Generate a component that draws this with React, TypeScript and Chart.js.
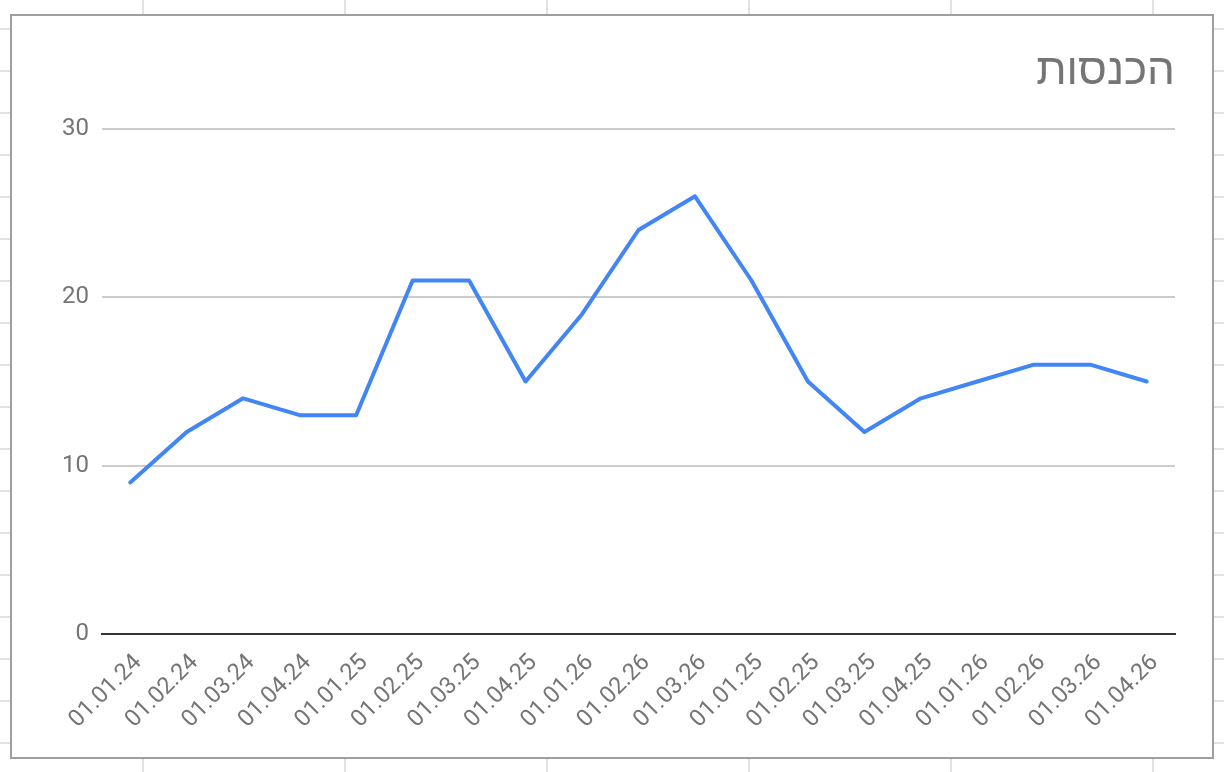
import React, { useEffect, useRef } from "react";
import { Chart, registerables } from "chart.js";

Chart.register(...registerables);

const chartTitle = "הכנסות";
const categories = [
  "01.01.24", "01.02.24", "01.03.24", "01.04.24",
  "01.01.25", "01.02.25", "01.03.25", "01.04.25",
  "01.01.26", "01.02.26", "01.03.26",
  "01.01.25", "01.02.25", "01.03.25", "01.04.25",
  "01.01.26", "01.02.26", "01.03.26", "01.04.26",
];
const revenue = [9, 12, 14, 13, 13, 21, 21, 15, 19, 24, 26, 21, 15, 12, 14, 15, 16, 16, 15];
const yTicks = [0, 10, 20, 30];

const LABEL_FONT = "Roboto, 'Noto Sans', Arial, sans-serif";
const TITLE_FONT = "'Liberation Sans', Arial, sans-serif";

export default function App() {
  const ref = useRef<HTMLCanvasElement>(null);

  useEffect(() => {
    if (!ref.current) return;
    const chart = new Chart(ref.current, {
      type: "line",
      data: {
        labels: categories,
        datasets: [
          {
            data: revenue,
            borderColor: "#4285f4",
            backgroundColor: "#4285f4",
            borderWidth: 4,
            pointRadius: 0,
            pointHoverRadius: 0,
            tension: 0,
            fill: false,
            borderJoinStyle: "round",
            borderCapStyle: "round",
          },
        ],
      },
      options: {
        animation: false,
        responsive: false,
        maintainAspectRatio: false,
        events: [],
        layout: { padding: { left: 0, right: 37, top: 0, bottom: 0 } },
        plugins: {
          legend: { display: false },
          tooltip: { enabled: false },
          title: {
            display: true,
            text: chartTitle,
            align: "end",
            color: "#757575",
            font: { family: TITLE_FONT, size: 44, weight: "normal", lineHeight: 1.2 },
            padding: { top: 29, bottom: 31.2 },
          },
        },
        scales: {
          x: {
            type: "category",
            offset: true,
            grid: { display: false, drawTicks: false },
            border: { display: true, color: "#333333", width: 2 },
            ticks: {
              autoSkip: false,
              maxRotation: 45,
              minRotation: 45,
              color: "#757575",
              padding: 15,
              labelOffset: 8,
              font: { family: LABEL_FONT, size: 23.5 },
            },
            afterFit: (s: any) => {
              s.height = 123;
            },
          },
          y: {
            min: 0,
            max: 30,
            grid: {
              drawTicks: false,
              lineWidth: 2,
              color: (ctx: any) => (ctx.tick && ctx.tick.value === 0 ? "rgba(0,0,0,0)" : "#cccccc"),
            },
            border: { display: false },
            afterBuildTicks: (s: any) => {
              s.ticks = yTicks.map((v) => ({ value: v }));
            },
            ticks: {
              color: "#757575",
              padding: 13,
              font: { family: LABEL_FONT, size: 24 },
            },
            afterFit: (s: any) => {
              s.width = 90;
            },
          },
        },
      },
    });
    return () => chart.destroy();
  }, []);

  return (
    <div
      style={{
        position: "absolute",
        left: 0,
        top: 0,
        width: 1224,
        height: 772,
        overflow: "hidden",
        background: "#ffffff",
        backgroundImage:
          "repeating-linear-gradient(to right, transparent 0px, transparent 142px, #e2e2e2 142px, #e2e2e2 144px, transparent 144px, transparent 202px)," +
          "repeating-linear-gradient(to bottom, transparent 0px, transparent 28px, #e2e2e2 28px, #e2e2e2 30px, transparent 30px, transparent 42px)",
      }}
    >
      <div
        style={{
          position: "absolute",
          left: 10,
          top: 14,
          width: 1200,
          height: 741,
          border: "2px solid #9e9e9e",
          background: "#ffffff",
        }}
      >
        <canvas ref={ref} width={1200} height={741} style={{ display: "block", width: 1200, height: 741 }} />
      </div>
    </div>
  );
}
